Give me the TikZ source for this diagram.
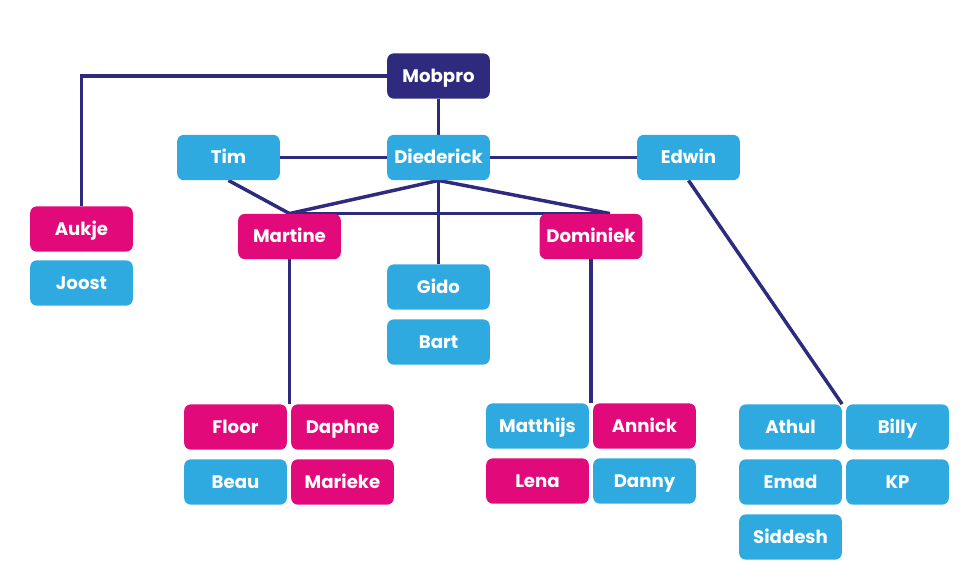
\documentclass[tikz,border=0pt]{standalone}
\usepackage{fontspec}
\setmainfont{Poppins}
\usepackage{tikz}
\usetikzlibrary{calc,backgrounds}
\definecolor{navy}{HTML}{2E2A7E}
\definecolor{sky}{HTML}{2EAAE1}
\definecolor{rose}{HTML}{E20A7B}

\begin{document}
\begin{tikzpicture}[x=0.75pt,y=-0.75pt,font=\bfseries\fontsize{13.6}{15}\selectfont,
  box/.style={rounded corners=5pt,minimum width=77pt,minimum height=34pt,inner sep=0pt,
    text height=11.8pt,text depth=2.2pt,text=white},
  lead/.style={box,fill=navy},
  blue/.style={box,fill=sky},
  pink/.style={box,fill=rose},
  link/.style={navy,line width=2.6pt}]
\useasboundingbox (0,0) rectangle (980,586);

\node[lead] (mobpro) at (438.5,76) {Mobpro};
\node[blue] (tim) at (228.5,157.5) {Tim};
\node[blue] (diederick) at (438.5,157.5) {Diederick};
\node[blue] (edwin) at (688.5,157.5) {Edwin};
\node[pink] (aukje) at (81.5,229) {Aukje};
\node[blue] (joost) at (81.5,283) {Joost};
\node[pink] (martine) at (289.5,236.5) {Martine};
\node[pink] (dominiek) at (591,236.5) {Dominiek};
\node[blue] (gido) at (438.5,287) {Gido};
\node[blue] (bart) at (438.5,342) {Bart};

\node[pink] (floor) at (235.5,427) {Floor};
\node[pink] (daphne) at (342.5,427) {Daphne};
\node[blue] (beau) at (235.5,482) {Beau};
\node[pink] (marieke) at (342.5,482) {Marieke};

\node[blue] (matthijs) at (537.5,426) {Matthijs};
\node[pink] (annick) at (644.5,426) {Annick};
\node[pink] (lena) at (537.5,481) {Lena};
\node[blue] (danny) at (644.5,481) {Danny};

\node[blue] (athul) at (790.5,427) {Athul};
\node[blue] (billy) at (897.5,427) {Billy};
\node[blue] (emad) at (790.5,482) {Emad};
\node[blue] (kp) at (897.5,482) {KP};
\node[blue] (siddesh) at (790.5,537) {Siddesh};

\coordinate (dj) at ($(dominiek.north)+(19,0)$);

\begin{scope}[on background layer]
\draw[link] (mobpro.west) -| (aukje.north);
\draw[link] (mobpro) -- (diederick);
\draw[link] (tim) -- (diederick);
\draw[link] (diederick) -- (edwin);
\draw[link] (tim.south) -- (martine.north);
\draw[link] (diederick.south) -- (martine.north);
\draw[link] (diederick.south) -- (dj);
\draw[link] (martine.north) -- (dj);
\draw[link] (diederick.south) -- (gido.north);
\draw[link] (martine.south) -- (martine.south |- floor.north);
\draw[link] (dominiek.south) -- (dominiek.south |- annick.north);
\draw[link] (edwin.south) -- (athul.north east);
\end{scope}
\end{tikzpicture}
\end{document}
